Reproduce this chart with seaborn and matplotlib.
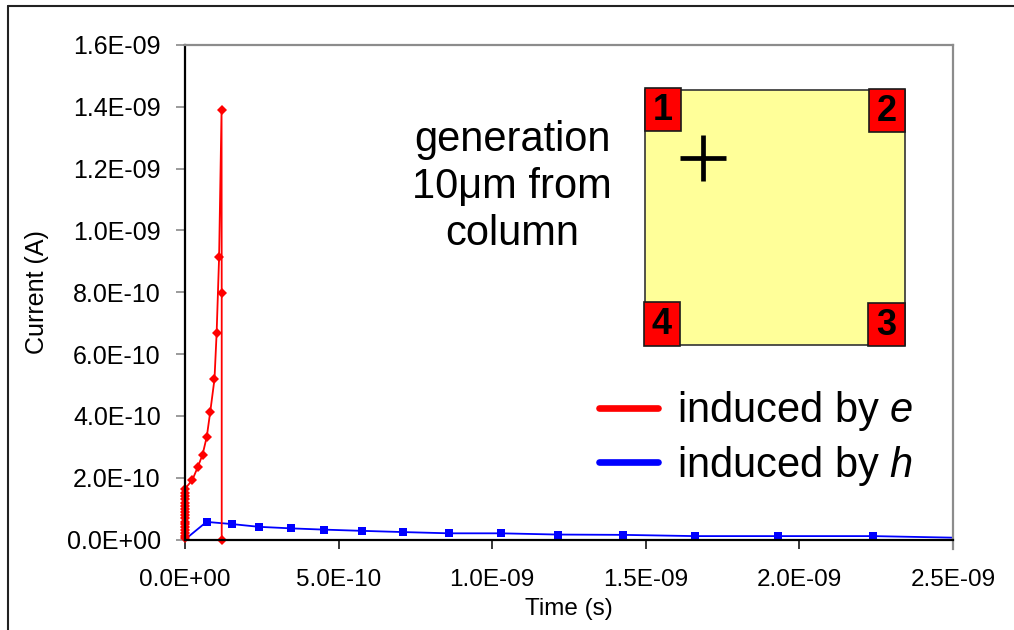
import matplotlib
matplotlib.use("Agg")
import matplotlib.pyplot as plt
from matplotlib.lines import Line2D
from matplotlib.patches import Rectangle
from matplotlib.ticker import FuncFormatter, MultipleLocator
import numpy as np
import pandas as pd
import seaborn as sns

# Induced current by electrons (time in ps, current in nA)
e_time_ps = [0.05, 0.1, 0.15, 0.2, 0.25, 0.3, 0.35, 0.4, 0.45, 0.5, 0.55, 0.6, 0.65,
             0.7, 0.75, 0.8, 1.0, 24, 41, 57, 71, 82, 96, 103, 111, 119, 119.5, 119.5]
e_current_nA = [0.004, 0.012, 0.021, 0.030, 0.040, 0.049, 0.058, 0.068, 0.078, 0.088,
                0.098, 0.108, 0.119, 0.130, 0.141, 0.152, 0.165, 0.193, 0.233, 0.274,
                0.333, 0.412, 0.519, 0.669, 0.914, 1.390, 0.799, 0.0]

# Induced current by holes (time in ps, current in nA)
h_time_ps = [0, 70, 152, 241, 346, 451, 577, 711, 860, 1028, 1213, 1425, 1660, 1930,
             2240, 2600]
h_current_nA = [0.0, 0.057, 0.050, 0.041, 0.036, 0.032, 0.028, 0.024, 0.020, 0.020,
                0.016, 0.015, 0.011, 0.011, 0.011, 0.004]

series_labels = ["induced by $e$", "induced by $h$"]
x_label = "Time (s)"
y_label = "Current (A)"
note_text = "generation\n10\u03bcm from\ncolumn"
pad_labels = ["1", "2", "3", "4"]

sns.set_theme(style="white")
plt.rcParams["font.family"] = ["Liberation Sans", "DejaVu Sans"]
plt.rcParams["mathtext.fontset"] = "custom"
plt.rcParams["mathtext.rm"] = "Liberation Sans"
plt.rcParams["mathtext.it"] = "Liberation Sans:italic"
for key in ("text.color", "axes.labelcolor", "xtick.labelcolor", "ytick.labelcolor"):
    plt.rcParams[key] = "black"

e_df = pd.DataFrame({"t": np.array(e_time_ps) * 1e-12, "i": np.array(e_current_nA) * 1e-9})
h_df = pd.DataFrame({"t": np.array(h_time_ps) * 1e-12, "i": np.array(h_current_nA) * 1e-9})

W, H = 1014, 630
fig = plt.figure(figsize=(W / 100, H / 100), dpi=100)
fig.patch.set_facecolor("white")

ax_l, ax_r, ax_t, ax_b = 185, 953, 45, 539.5
ax = fig.add_axes([ax_l / W, 1 - ax_b / H, (ax_r - ax_l) / W, (ax_b - ax_t) / H])

sns.lineplot(data=h_df, x="t", y="i", sort=False, estimator=None, ax=ax,
             color="#0000FF", lw=1.3, marker="s", markersize=6,
             markeredgewidth=0, legend=False, clip_on=True)
sns.lineplot(data=e_df, x="t", y="i", sort=False, estimator=None, ax=ax,
             color="#FF0000", lw=1.3, marker="D", markersize=5.2,
             markeredgewidth=0, legend=False, clip_on=False)

ax.set_xlim(0, 2.5e-9)
ax.set_ylim(0, 1.6e-9)
ax.xaxis.set_major_locator(MultipleLocator(5e-10))
ax.yaxis.set_major_locator(MultipleLocator(2e-10))
sci = FuncFormatter(lambda v, p: f"{v:.1E}")
ax.xaxis.set_major_formatter(sci)
ax.yaxis.set_major_formatter(sci)

for side in ("left", "bottom"):
    ax.spines[side].set_color("black")
    ax.spines[side].set_linewidth(1.6)
for side in ("top", "right"):
    ax.spines[side].set_color("#8C8C8C")
    ax.spines[side].set_linewidth(1.6)
ax.spines["right"].set_bounds(-0.03e-9, 1.6e-9)

ax.tick_params(axis="x", direction="out", length=6.5, width=1.1, color="black",
               labelsize=17.5, pad=15, bottom=True)
ax.tick_params(axis="y", direction="out", length=6.5, width=1.1, color="#808080",
               labelsize=18, pad=11, left=True)
ax.set_xlabel(x_label, fontsize=17.5, labelpad=5)
ax.set_ylabel(y_label, fontsize=18, labelpad=13)
ax.grid(False)

# legend
handles = [Line2D([0], [0], color="#FF0000", lw=4.8),
           Line2D([0], [0], color="#0000FF", lw=4.8)]
ax.legend(handles, series_labels, loc="center left",
          bbox_to_anchor=(599 / W, 1 - 438.5 / H), bbox_transform=fig.transFigure,
          frameon=False, fontsize=30, handlelength=1.42, handletextpad=0.45,
          labelspacing=0.25, borderpad=0, borderaxespad=0)

# annotation text
fig.text(512 / W, 1 - 187 / H, note_text, ha="center", va="center",
         fontsize=30, linespacing=1.22)

# detector sketch: yellow square with four numbered corner pads
ins = fig.add_axes([640 / W, 1 - 349 / H, 270 / W, 264 / H])
ins.set_xlim(640, 910)
ins.set_ylim(349, 85)
ins.axis("off")
ins.add_patch(Rectangle((645, 90), 260, 255, facecolor="#FFFF99",
                        edgecolor="#333333", lw=1.2))
pads = {"1": (645, 88, 36, 43), "2": (869, 89, 36, 43),
        "3": (868, 303, 37, 43), "4": (644, 302, 36, 44)}
for lab in pad_labels:
    x0, y0, w, h = pads[lab]
    ins.add_patch(Rectangle((x0, y0), w, h, facecolor="#FF0000",
                            edgecolor="#1A1A1A", lw=1.2))
    ins.text(x0 + w / 2, y0 + h / 2 + 1, lab, ha="center", va="center",
             fontsize=26, fontweight="bold", color="black")
ins.plot([703], [158], marker="+", markersize=33, markeredgewidth=3.4,
         color="black")

# outer frame
fig.add_artist(Line2D([8 / W, 8 / W], [1 - 5.5 / H, 0], transform=fig.transFigure,
                      color="#222222", lw=1.5))
fig.add_artist(Line2D([8 / W, 1], [1 - 5.5 / H, 1 - 5.5 / H],
                      transform=fig.transFigure, color="#222222", lw=1.5))

fig.savefig("out.png", dpi=100)
